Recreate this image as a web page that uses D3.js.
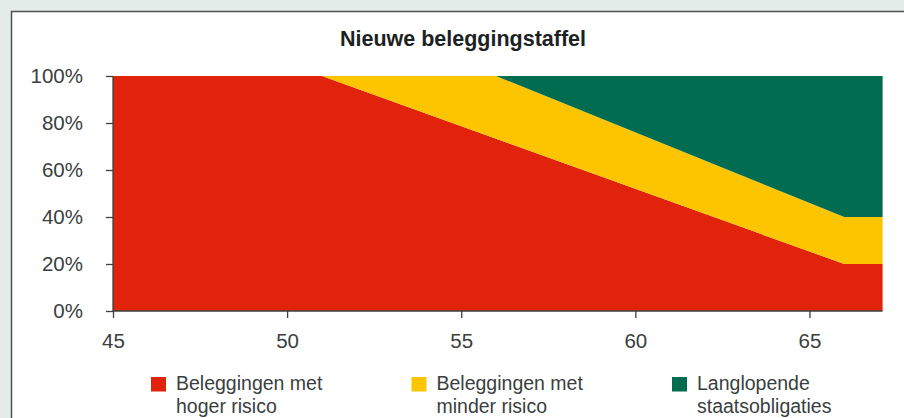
<!DOCTYPE html>
<html>
<head>
<meta charset="utf-8">
<script src="https://cdn.jsdelivr.net/npm/d3@7"></script>
<style>
  html, body { margin: 0; padding: 0; background: #e4ece9; }
  svg { display: block; font-family: "Liberation Sans", Arial, sans-serif; }
</style>
</head>
<body>
<div id="chart"></div>
<script>
// Age breakpoints and the share (%) of each asset class
const ages = [45, 51, 56, 66, 67.1];
const hogerRisico = [100, 100, 73.3, 20, 20];
const minderRisico = [0, 0, 26.7, 20, 20];
const staatsobligaties = [0, 0, 0, 60, 60];

const xTicks = [45, 50, 55, 60, 65];
const yTicks = [0, 20, 40, 60, 80, 100];

const seriesKeys = ["hoger", "minder", "staat"];
const seriesLabels = [
    ["Beleggingen met", "hoger risico"],
    ["Beleggingen met", "minder risico"],
    ["Langlopende", "staatsobligaties"]
];
const colors = ["#e2230b", "#fdc500", "#016c50"];

const width = 904, height = 418;

const svg = d3.select("#chart").append("svg")
    .attr("width", width)
    .attr("height", height);

// white panel with border (runs off the right and bottom edges)
svg.append("rect")
    .attr("x", 11.5)
    .attr("y", 11.5)
    .attr("width", 1000)
    .attr("height", 500)
    .attr("fill", "#fff")
    .attr("stroke", "#4b5151")
    .attr("stroke-width", 1.5);

svg.append("text")
    .attr("x", 463)
    .attr("y", 46)
    .attr("text-anchor", "middle")
    .attr("font-size", 21.5)
    .attr("font-weight", "bold")
    .attr("fill", "#1c2222")
    .text("Nieuwe beleggingstaffel");

const x = d3.scaleLinear().domain([45, 67.1]).range([113, 882.6]);
const y = d3.scaleLinear().domain([0, 100]).range([311, 76]);

const table = ages.map((a, i) => ({
    age: a,
    hoger: hogerRisico[i],
    minder: minderRisico[i],
    staat: staatsobligaties[i]
}));

const stacked = d3.stack().keys(seriesKeys)(table);

const area = d3.area()
    .x(d => x(d.data.age))
    .y0(d => y(d[0]))
    .y1(d => y(d[1]));

svg.append("g")
    .selectAll("path")
    .data(stacked)
    .enter().append("path")
    .attr("fill", (d, i) => colors[i])
    .attr("d", area);

// axes
const axisColor = "#3c4242";
const labelColor = "#3a4040";

const yAxis = svg.append("g")
    .attr("transform", `translate(${x(45)},0)`)
    .call(d3.axisLeft(y).tickValues(yTicks).tickSize(7).tickPadding(23).tickFormat(d => d + "%"));

const xAxis = svg.append("g")
    .attr("transform", `translate(0,${y(0)})`)
    .call(d3.axisBottom(x).tickValues(xTicks).tickSize(7).tickPadding(15).tickFormat(d3.format("d")));

[yAxis, xAxis].forEach(ax => {
    ax.select(".domain").attr("stroke", axisColor).attr("stroke-width", 1.3);
    ax.selectAll(".tick line").attr("stroke", axisColor).attr("stroke-width", 1.3);
    ax.selectAll(".tick text")
        .attr("fill", labelColor)
        .attr("font-size", 20.5)
        .attr("font-family", "Liberation Sans, Arial, sans-serif");
});
// axis lines only across the plot area, no end caps
xAxis.select(".domain").attr("d", `M${x(45)},0H${x(67.1)}`);
yAxis.select(".domain").attr("d", `M0,${y(100)}V${y(0)}`);

// legend
const legend = svg.append("g")
    .selectAll("g")
    .data(seriesLabels)
    .enter().append("g")
    .attr("transform", (d, i) => `translate(${151 + i * 260.5},377)`);

legend.append("rect")
    .attr("width", 15)
    .attr("height", 14.5)
    .attr("fill", (d, i) => colors[i]);

// one text per line so the two lines do not share a box
legend.selectAll("text")
    .data(d => d)
    .enter().append("text")
    .attr("x", 25)
    .attr("y", (d, i) => i === 0 ? 13.2 : 35.6)
    .attr("font-size", 19.5)
    .attr("fill", labelColor)
    .text(d => d);
</script>
</body>
</html>
